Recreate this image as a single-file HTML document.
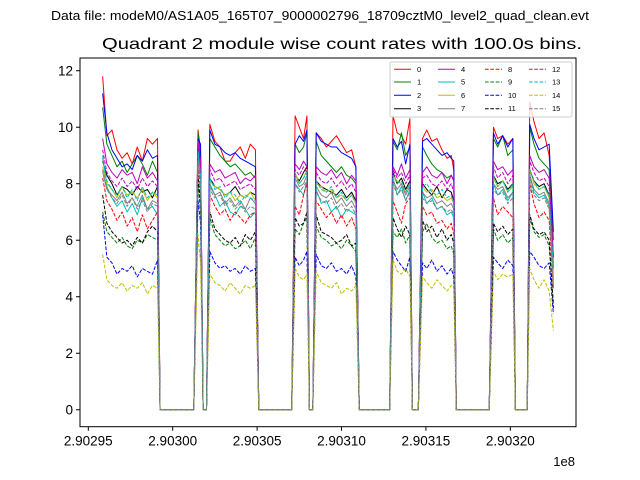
<!DOCTYPE html>
<html><head><meta charset="utf-8"><style>
body{margin:0;background:#fff;}
svg{display:block;font-family:"Liberation Sans","DejaVu Sans",sans-serif;}
</style></head><body>
<svg id="chart" width="640" height="480" viewBox="0 0 640 480">
<rect width="640" height="480" fill="#fff"/>
<text x="320" y="20" text-anchor="middle" font-size="12.5" textLength="538" lengthAdjust="spacingAndGlyphs">Data file: modeM0/AS1A05_165T07_9000002796_18709cztM0_level2_quad_clean.evt</text>
<text x="342" y="49" text-anchor="middle" font-size="16" textLength="480" lengthAdjust="spacingAndGlyphs">Quadrant 2 module wise count rates with 100.0s bins.</text>
<g id="plot"></g>
<rect x="80" y="58" width="496" height="368.7" fill="none" stroke="#000" stroke-width="1"/>
<g id="xaxis"></g>
<g id="yaxis"></g>
<text x="575" y="466" text-anchor="end" font-size="13">1e8</text>
<g id="legend"></g>
</svg>
<script>
// times: seconds offset from 2.90295e8
const times=[850,1100,1400,1700,2000,2300,2600,2900,3200,3500,3800,4100,4250,6250,6500,6650,6800,7000,7200,7500,7800,8100,8400,8700,9000,9300,9600,9900,10100,12050,12250,12500,12750,12950,13100,13300,13500,13800,14100,14400,14700,15000,15300,15600,15850,16050,17850,18050,18300,18550,18800,19050,19200,19550,19800,20050,20350,20650,20950,21250,21500,21650,21800,23750,24000,24250,24550,24850,25150,25300,26000,26150,26400,26700,27000,27300,27550];
const s0=[11.8,9.7,9.9,9.2,8.9,9.1,8.7,9.3,8.8,9.6,9.4,9.6,0,0,9.9,9.2,0,0,10.1,9.5,9.3,8.8,8.8,9.1,9.3,8.9,9.4,9.2,0,0,10.4,10.0,9.6,10.4,0,0,9.8,9.6,9.3,9.5,9.7,9.4,9.1,9.2,8.6,0,0,10.4,9.8,9.7,9.4,10.3,0,0,9.6,9.9,9.5,9.6,9.2,8.9,9.0,8.5,0,0,10.0,9.6,9.7,9.4,9.6,0,0,10.9,10.2,9.6,9.8,9.0,6.0];
const s1=[10.7,9.4,9.0,8.6,8.8,8.4,8.7,9.0,8.7,8.3,8.8,8.4,0,0,9.8,9.0,0,0,9.6,9.3,9.0,8.8,8.6,8.7,8.5,8.3,8.4,8.2,0,0,9.4,9.1,9.3,9.8,0,0,9.5,9.0,8.8,8.6,8.4,8.6,8.3,8.2,8.0,0,0,9.5,9.2,9.8,9.0,9.3,0,0,9.3,9.0,8.7,8.5,8.4,8.2,8.3,8.1,0,0,9.6,9.3,9.7,9.0,9.2,0,0,10.0,9.4,8.9,8.7,8.5,5.4];
const s2=[11.2,9.8,9.2,8.9,8.6,8.7,8.5,9.0,8.8,9.2,8.9,9.0,0,0,9.6,9.4,0,0,9.9,9.4,9.3,9.1,9.0,9.1,8.9,8.8,8.7,8.6,0,0,9.4,9.7,9.5,9.9,0,0,9.8,9.5,9.4,9.3,9.3,9.1,9.0,8.9,8.6,0,0,9.6,9.3,9.5,8.7,9.4,0,0,9.5,9.6,9.4,9.2,9.0,9.1,8.9,8.8,0,0,9.8,9.4,9.7,9.3,9.6,0,0,10.1,9.6,9.2,9.3,9.4,6.3];
const s3=[8.8,8.3,8.0,7.6,7.9,7.8,7.6,7.9,7.7,7.8,7.5,7.9,0,0,9.4,8.5,0,0,8.2,7.9,7.8,7.6,7.7,7.9,7.6,7.5,7.7,7.6,0,0,8.3,8.1,8.4,8.6,0,0,8.1,7.9,7.8,7.7,7.6,7.8,7.5,7.7,7.4,0,0,8.4,8.0,8.2,7.8,8.1,0,0,8.0,7.8,7.6,7.9,7.5,7.8,7.7,7.4,0,0,8.3,8.0,8.1,7.8,8.0,0,0,8.5,8.1,7.9,8.0,7.6,5.0];
const s4=[9.6,8.7,8.4,8.2,8.5,8.3,8.4,8.0,8.6,8.2,8.4,8.1,0,0,9.5,8.8,0,0,8.7,8.4,8.5,8.2,8.3,8.4,8.0,8.2,8.1,8.3,0,0,8.7,8.5,8.8,8.6,0,0,8.6,8.4,8.3,8.5,8.2,8.4,8.0,8.3,8.1,0,0,8.6,8.3,8.7,8.2,8.5,0,0,8.4,8.6,8.3,8.2,8.4,8.0,8.3,8.1,0,0,8.8,8.5,8.6,8.3,8.5,0,0,9.0,8.6,8.4,8.5,8.2,5.4];
const s5=[9.0,7.9,7.5,7.2,7.4,7.0,7.3,6.9,7.5,7.1,7.2,6.9,0,0,9.2,8.2,0,0,8.0,7.6,7.2,7.4,7.0,6.9,7.2,7.1,6.8,7.0,0,0,8.0,7.8,7.6,8.1,0,0,7.8,7.3,7.4,7.0,7.2,6.8,7.1,7.0,6.9,0,0,8.2,7.6,7.9,7.4,7.8,0,0,7.7,7.3,7.5,7.1,7.2,6.9,7.0,6.8,0,0,8.0,7.6,7.8,7.4,7.7,0,0,8.3,7.7,7.5,7.6,7.2,4.6];
const s6=[8.6,8.0,7.8,7.5,7.9,7.6,7.7,7.5,7.8,7.4,7.7,7.5,0,0,9.0,8.3,0,0,8.1,7.9,7.8,7.6,7.7,7.4,7.6,7.5,7.7,7.4,0,0,8.4,8.0,8.2,8.5,0,0,8.0,7.9,7.7,7.8,7.5,7.6,7.4,7.6,7.3,0,0,8.3,8.1,8.0,7.7,8.0,0,0,7.9,7.7,7.8,7.5,7.6,7.4,7.5,7.3,0,0,8.2,7.9,8.1,7.7,7.9,0,0,8.5,8.0,7.8,7.9,7.5,4.8];
const s7=[8.4,7.8,7.6,7.4,7.7,7.3,7.5,7.2,7.6,7.1,7.4,7.3,0,0,8.9,8.1,0,0,7.9,7.6,7.7,7.3,7.5,7.2,7.4,7.1,7.5,7.3,0,0,8.2,7.9,8.0,8.3,0,0,7.9,7.6,7.5,7.7,7.3,7.5,7.2,7.4,7.1,0,0,8.1,7.8,8.0,7.6,7.9,0,0,7.7,7.5,7.6,7.3,7.4,7.2,7.3,7.1,0,0,8.0,7.8,7.9,7.5,7.7,0,0,8.3,7.8,7.6,7.7,7.3,4.4];
const s8=[8.2,7.4,7.1,6.7,7.0,6.5,6.8,6.3,6.9,6.4,6.7,7.0,0,0,8.6,7.8,0,0,7.6,7.2,6.9,7.1,6.7,7.0,6.8,6.6,6.9,7.0,0,0,7.2,6.9,7.6,8.0,0,0,7.4,7.1,6.8,7.0,6.6,6.9,6.5,6.8,6.4,0,0,7.4,7.0,6.6,7.3,7.5,0,0,7.2,6.9,7.0,6.6,6.7,6.4,6.6,6.2,0,0,7.5,6.9,7.2,7.0,6.8,0,0,8.0,7.3,6.8,7.0,6.7,4.3];
const s9=[7.0,6.3,6.1,5.9,6.1,5.8,5.7,6.0,5.9,6.2,6.1,6.0,0,0,8.0,7.0,0,0,6.8,6.2,6.0,5.8,5.9,5.7,5.8,6.0,5.7,6.1,0,0,6.4,6.2,6.6,6.8,0,0,6.5,6.1,6.0,5.8,5.9,5.7,6.0,5.8,5.6,0,0,6.3,6.1,6.4,5.9,6.2,0,0,6.3,6.6,6.1,5.9,6.0,5.7,5.8,5.5,0,0,6.4,6.0,6.2,5.9,6.1,0,0,6.8,6.3,6.1,6.2,5.8,3.8];
const s10=[6.9,5.4,5.2,4.8,5.0,4.9,5.1,4.7,5.0,4.9,4.8,5.3,0,0,7.4,6.6,0,0,5.6,5.2,5.0,5.1,4.9,5.0,4.8,5.1,4.9,5.0,0,0,5.4,5.1,5.3,5.6,0,0,5.5,5.1,5.0,5.2,4.9,5.0,4.8,5.1,4.7,0,0,5.6,5.3,5.1,4.9,5.4,0,0,5.2,5.0,5.3,4.9,5.1,4.8,5.0,4.7,0,0,5.4,5.2,5.0,5.3,5.1,0,0,5.6,5.4,5.1,5.0,5.2,3.4];
const s11=[7.6,6.6,6.3,6.1,5.9,6.0,5.8,6.1,5.9,6.3,6.5,6.3,0,0,8.3,7.3,0,0,7.0,6.4,6.2,6.0,5.9,6.1,5.8,6.2,6.0,6.3,0,0,6.8,6.5,6.6,7.0,0,0,6.9,6.3,6.2,6.1,5.9,6.0,6.2,5.8,5.9,0,0,6.8,6.4,6.1,6.5,6.2,0,0,6.7,6.3,6.5,6.1,6.4,6.0,6.2,5.9,0,0,6.6,6.3,6.5,6.2,6.4,0,0,6.9,6.4,6.2,6.3,6.0,3.6];
const s12=[9.2,8.4,8.1,7.9,8.2,7.9,8.1,7.8,8.2,7.9,8.1,7.9,0,0,9.3,8.6,0,0,8.5,8.1,8.2,7.9,8.0,8.1,7.8,7.9,8.0,7.8,0,0,8.5,8.3,8.6,8.4,0,0,8.4,8.1,8.0,8.2,7.9,8.1,7.8,8.0,7.7,0,0,8.5,8.2,8.4,8.0,8.3,0,0,8.2,8.3,8.0,7.9,8.1,7.8,8.0,7.7,0,0,8.6,8.2,8.4,8.0,8.3,0,0,8.8,8.4,8.1,8.2,7.9,5.2];
const s13=[8.9,8.1,7.8,7.6,7.9,7.5,7.8,7.4,7.9,7.5,7.7,7.6,0,0,9.1,8.3,0,0,8.2,7.8,7.9,7.5,7.7,7.6,7.3,7.6,7.5,7.4,0,0,8.3,8.0,8.2,8.4,0,0,8.1,7.8,7.7,7.9,7.5,7.7,7.4,7.6,7.3,0,0,8.3,8.0,8.1,7.7,8.0,0,0,7.9,8.0,7.7,7.6,7.8,7.5,7.6,7.3,0,0,8.3,7.9,8.1,7.7,8.0,0,0,8.5,8.1,7.8,7.9,7.6,5.0];
const s14=[5.5,4.6,4.4,4.3,4.5,4.2,4.4,4.3,4.5,4.1,4.4,4.3,0,0,6.2,5.2,0,0,4.8,4.5,4.4,4.2,4.5,4.3,4.1,4.4,4.3,4.4,0,0,5.0,4.7,4.6,4.8,0,0,4.9,4.5,4.4,4.3,4.5,4.1,4.3,4.2,4.4,0,0,5.3,4.9,4.8,5.0,4.7,0,0,4.7,4.5,4.3,4.6,4.4,4.2,4.4,4.3,0,0,4.9,4.6,4.8,4.7,4.8,0,0,5.0,4.6,4.3,4.6,4.2,2.8];
const s15=[8.5,7.8,7.5,7.3,7.6,7.2,7.5,7.1,7.4,7.0,7.3,7.2,0,0,8.8,8.0,0,0,7.8,7.5,7.6,7.2,7.4,7.1,7.3,7.0,7.2,7.1,0,0,8.0,7.7,7.9,8.1,0,0,7.7,7.4,7.3,7.5,7.1,7.3,7.0,7.2,6.9,0,0,8.0,7.6,7.8,7.4,7.7,0,0,7.5,7.3,7.4,7.1,7.2,7.0,7.1,6.9,0,0,7.8,7.6,7.7,7.3,7.5,0,0,8.1,7.6,7.4,7.5,7.1,4.3];
const seriesLabels=["0","1","2","3","4","5","6","7","8","9","10","11","12","13","14","15"];
const xTickVals=[0,5000,10000,15000,20000,25000];
const xTickLabels=["2.90295","2.90300","2.90305","2.90310","2.90315","2.90320"];
const yTickVals=[0,2,4,6,8,10,12];

const series=[s0,s1,s2,s3,s4,s5,s6,s7,s8,s9,s10,s11,s12,s13,s14,s15];
const colors=["#ff0000","#008000","#0000ff","#000000","#bf00bf","#00bfbf","#bfbf00","#808080"];
const NS="http://www.w3.org/2000/svg";
const L=80,R=576,T=58,B=426.7;
const xmin=-492,xmax=28890,ymin=-0.6,ymax=12.45;
function xs(t){return L+(t-xmin)/(xmax-xmin)*(R-L);}
function ys(v){return B-(v-ymin)/(ymax-ymin)*(B-T);}
function mk(tag,attrs,parent){const e=document.createElementNS(NS,tag);for(const k in attrs)e.setAttribute(k,attrs[k]);parent.appendChild(e);return e;}

const plot=document.getElementById('plot');
series.forEach((s,i)=>{
  const d=s.map((v,j)=>(j?'L':'M')+xs(times[j]).toFixed(2)+','+ys(v).toFixed(2)).join('');
  const p=mk('path',{d:d,fill:'none',stroke:colors[i%8],'stroke-width':1,'stroke-linejoin':'round'},plot);
  if(i>=8)p.setAttribute('stroke-dasharray','3.7,1.6');
  
  
});

const xa=document.getElementById('xaxis');
xTickVals.forEach((v,i)=>{
  const x=xs(v);
  const tk=mk('line',{x1:x,x2:x,y1:B,y2:B+4,stroke:'#000'},xa);
  
  
  const t=mk('text',{x:x,y:B+19,'text-anchor':'middle','font-size':13.5},xa);
  t.textContent=xTickLabels[i];
  
  
});
const ya=document.getElementById('yaxis');
yTickVals.forEach(v=>{
  const y=ys(v);
  const tk=mk('line',{x1:L-4,x2:L,y1:y,y2:y,stroke:'#000'},ya);
  
  
  const t=mk('text',{x:L-7,y:y+5,'text-anchor':'end','font-size':13.5},ya);
  t.textContent=v;
  
  
});

const lg=document.getElementById('legend');
const box=mk('rect',{x:390,y:62,width:182,height:55,rx:2,fill:'#fff','fill-opacity':0.8,stroke:'#ccc','stroke-width':1},lg);


const colX=[394,438,485,529],rowY=[69.3,82,95.3,108.7];
seriesLabels.forEach((lab,i)=>{
  const c=Math.floor(i/4),r=i%4;
  const g=mk('g',{},lg);
  
  
  const ln=mk('line',{x1:colX[c],x2:colX[c]+17,y1:rowY[r],y2:rowY[r],stroke:colors[i%8],'stroke-width':1},g);
  if(i>=8)ln.setAttribute('stroke-dasharray','3.7,1.6');
  const t=mk('text',{x:colX[c]+23,y:rowY[r]+2.5,'font-size':7.5},g);
  t.textContent=lab;
});
</script>
</body></html>
